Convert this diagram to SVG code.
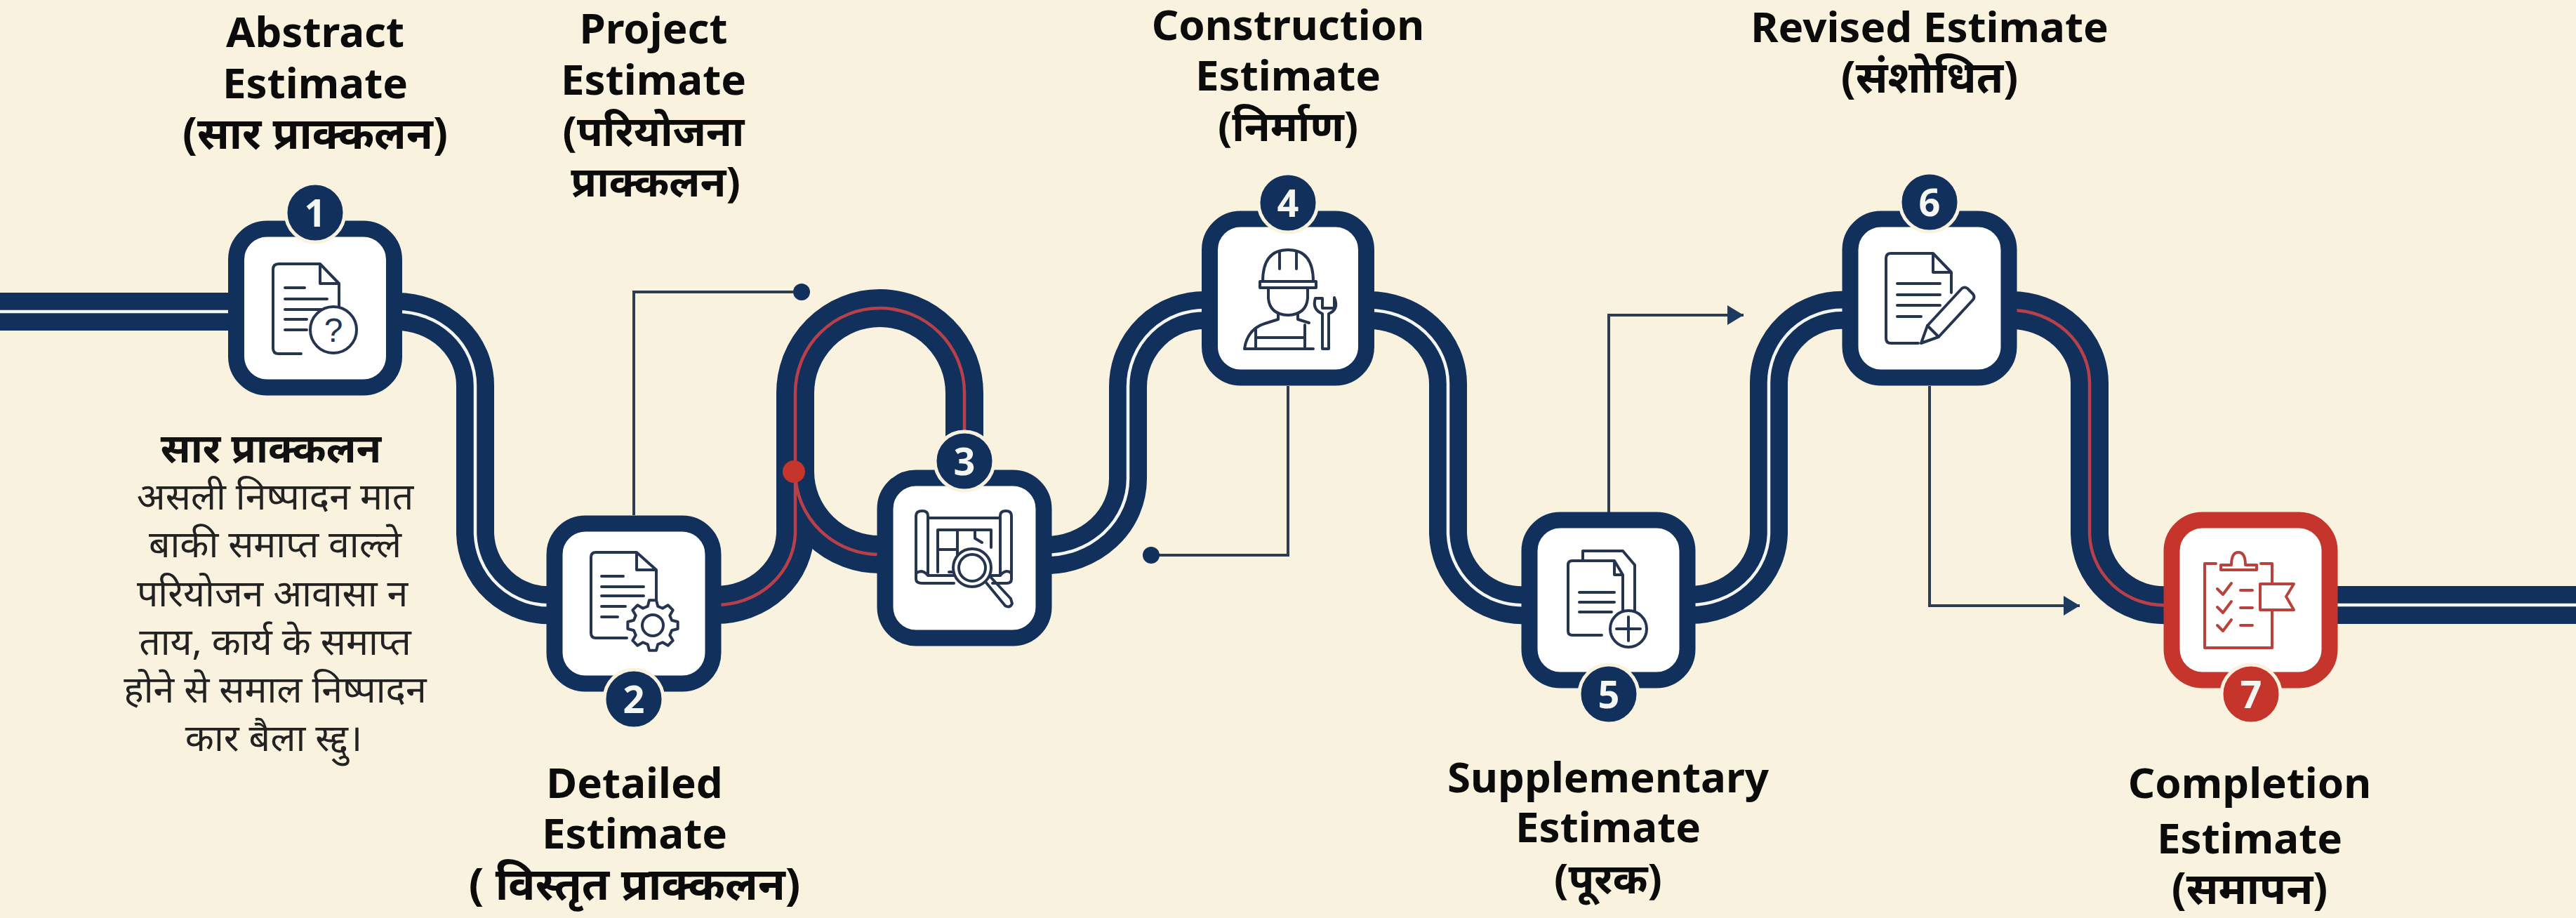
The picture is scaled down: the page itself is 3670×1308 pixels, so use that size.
<svg xmlns="http://www.w3.org/2000/svg" width="3670" height="1308" viewBox="0 0 3670 1308">
<defs>
<style>
.bg{fill:#f8f2df}
.t{fill:none;stroke:#12305c;stroke-width:54}
.w{fill:none;stroke:#f4f6f2;stroke-width:4.500}
.r{fill:none;stroke:#b8404a;stroke-width:4.500}
.thin{fill:none;stroke:#2c3e50;stroke-width:4}
.box{fill:#fff;stroke:#12305c;stroke-width:23}
.boxr{fill:#fff;stroke:#c5352b;stroke-width:23}
.ic{fill:none;stroke:#26354f;stroke-width:4;stroke-linecap:round;stroke-linejoin:round}
.icr{fill:none;stroke:#b8433c;stroke-width:4;stroke-linecap:round;stroke-linejoin:round}
.fillw{fill:#fff}
.bd{fill:#12305c;stroke:#f8f2df;stroke-width:5}
.bdr{fill:#c5352b;stroke:#f8f2df;stroke-width:5}
.n{font:700 54px "Noto Sans","Liberation Sans",sans-serif;fill:#f4f6f2;text-anchor:middle}
.h{font:700 60px "Noto Sans","Noto Sans Devanagari","Liberation Sans",sans-serif;fill:#0b0b0b;text-anchor:middle}
.b{font:400 53.500px "Noto Sans","Noto Sans Devanagari","Liberation Sans",sans-serif;fill:#222;text-anchor:middle}
.bt{font:700 58px "Noto Sans","Noto Sans Devanagari","Liberation Sans",sans-serif;fill:#111;text-anchor:middle}
</style>
<marker id="ah" markerUnits="userSpaceOnUse" markerWidth="24" markerHeight="28" refX="23" refY="14" orient="auto"><path d="M0 0L23 14L0 28Z" fill="#1f3a5f"/></marker>
</defs>
<rect class="bg" width="3670" height="1308"/>
<g id="connectors">
<path class="t" d="M0 444H330"/>
<path class="t" d="M565 444A112 105 0 0 1 677 549V757A105 105 0 0 0 790 862"/>
<path class="t" d="M1020 862A113 105 0 0 0 1133 757V560A120.500 121 0 0 1 1374 560V680"/>
<path class="t" d="M1133 672A120 118 0 0 0 1255 790"/>
<path class="t" d="M1490 791A117 109 0 0 0 1607 682V551A109 109 0 0 1 1720 442"/>
<path class="t" d="M1950 442A113 105 0 0 1 2063 547V757A105 105 0 0 0 2175 862"/>
<path class="t" d="M2408 862A112 104 0 0 0 2520 758V546A104 104 0 0 1 2630 442"/>
<path class="t" d="M2865 442A112 104 0 0 1 2977 546V758A106 104 0 0 0 3090 862"/>
<path class="t" d="M3325 862H3670"/>
<path class="w" d="M0 444H330"/>
<path class="w" d="M565 444A112 105 0 0 1 677 549V757A105 105 0 0 0 790 862"/>
<path class="r" d="M1020 862A113 105 0 0 0 1133 757V560A120.500 121 0 0 1 1374 560V680"/>
<path class="r" d="M1133 672A120 118 0 0 0 1255 790"/>
<path class="w" d="M1490 791A117 109 0 0 0 1607 682V551A109 109 0 0 1 1720 442"/>
<path class="w" d="M1950 442A113 105 0 0 1 2063 547V757A105 105 0 0 0 2175 862"/>
<path class="w" d="M2408 862A112 104 0 0 0 2520 758V546A104 104 0 0 1 2630 442"/>
<path class="r" d="M2865 442A112 104 0 0 1 2977 546V758A106 104 0 0 0 3090 862"/>
<path class="w" d="M3325 862H3670"/>
<circle cx="1131" cy="672" r="16" fill="#c5352b"/>
<path class="thin" d="M903 734V416H1130"/>
<circle cx="1142" cy="416" r="12" fill="#12305c"/>
<path class="thin" d="M1835 550V791H1650"/>
<circle cx="1640" cy="791" r="12" fill="#12305c"/>
<path class="thin" d="M2292 730V449H2484" marker-end="url(#ah)"/>
<path class="thin" d="M2749 550V863H2963" marker-end="url(#ah)"/>
</g>
<g id="node1" transform="translate(449 439)">
<rect class="box" x="-112.500" y="-113" width="225" height="226" rx="44"/>
<path class="ic" d="M-52 -63H7L34 -35V36M-20 65H-52Q-60 65 -60 57V-55Q-60 -63 -52 -63M7 -63V-35H34"/>
<path class="ic" d="M-43 -29H-15M-43 -13H17M-43 2H17M-43 16H-12M-43 31H-12"/>
<circle class="ic fillw" cx="26" cy="31" r="33"/>
<text x="26" y="48" style="font:400 48px 'Liberation Sans',sans-serif;fill:#26354f;text-anchor:middle">?</text>
<circle class="bd" cx="0" cy="-136" r="42"/>
<text class="n" x="0" y="-116">1</text>
</g>
<g id="node2" transform="translate(903 860)">
<rect class="box" x="-113" y="-114" width="226" height="228" rx="44"/>
<path class="ic" d="M-54 -73H4L32 -48V20M-10 49H-54Q-61 49 -61 42V-66Q-61 -73 -54 -73M4 -73V-48H32"/>
<path class="ic" d="M-46 -39H-15M-46 -24H14M-46 -11H14M-46 4H-12M-46 19H-23"/>
<polygon class="ic fillw" transform="translate(27 31)" points="35.650,-5.010 35.650,5.010 27.050,7.250 24.250,14 28.750,21.670 21.670,28.750 14,24.250 7.250,27.050 5.010,35.650 -5.010,35.650 -7.250,27.050 -14,24.250 -21.670,28.750 -28.750,21.670 -24.250,14 -27.050,7.250 -35.650,5.010 -35.650,-5.010 -27.050,-7.250 -24.250,-14 -28.750,-21.670 -21.670,-28.750 -14,-24.250 -7.250,-27.050 -5.010,-35.650 5.010,-35.650 7.250,-27.050 14,-24.250 21.670,-28.750 28.750,-21.670 24.250,-14 27.050,-7.250"/>
<circle class="ic" cx="27" cy="31" r="15"/>
<circle class="bd" cx="0" cy="136" r="42"/>
<text class="n" x="0" y="156">2</text>
</g>
<g id="node3" transform="translate(1374 795)">
<rect class="box" x="-113" y="-114" width="226" height="228" rx="44"/>
<path class="ic" d="M-52 -57H51M-52 25H51M-69 -60Q-69 -67 -60 -67Q-52 -67 -52 -60V25Q-60 15 -69 22Z M51 -60Q51 -67 59 -67Q67 -67 67 -60V22Q59 15 51 25Z M-69 22V30Q-69 36 -60 36H-15M40 36H60Q67 36 67 30V22"/>
<path class="ic" d="M-38 20V-40H38V-15M-38 -12H-10V-40M-10 -12V20H-22M15 -40V-28L25 -22"/>
<circle class="ic fillw" cx="11" cy="14" r="27"/>
<circle class="ic" cx="11" cy="14" r="19"/>
<path class="ic" d="M30 34L58 68Q65 72 68 65L66 58L38 28"/>
<circle class="bd" cx="0" cy="-138" r="42"/>
<text class="n" x="0" y="-118">3</text>
</g>
<g id="node4" transform="translate(1835 425)">
<rect class="box" x="-111.500" y="-113" width="223" height="226" rx="44"/>
<path class="ic" d="M-36 -24Q-36 -69 0 -69Q36 -69 36 -24M-40 -24H40V-15H-40ZM-12 -67V-42M12 -67V-42"/>
<path class="ic" d="M-28 -15V0Q-26 23 0 24Q26 23 28 0V-15"/>
<path class="ic" d="M-14 22V30L-33 36Q-58 44 -62 72H36M14 22V30L30 35M-46 72V44M24 72V38M-46 56H24"/>
<path class="ic" d="M39 0Q34 16 49 22V72H58V22Q73 16 66 -1V14H49V0Z"/>
<circle class="bd" cx="0" cy="-136" r="42"/>
<text class="n" x="0" y="-116">4</text>
</g>
<g id="node5" transform="translate(2292 855)">
<rect class="box" x="-113" y="-114" width="225" height="228" rx="44"/>
<path class="ic" d="M-37 -56V-70H20L37 -50V20"/>
<path class="ic" d="M-52 -56H8L20 -36V30M-10 50H-52Q-58 50 -58 44V-50Q-58 -56 -52 -56M8 -56V-36H20"/>
<path class="ic" d="M-42 -11H8M-42 3H8M-42 17H4"/>
<circle class="ic fillw" cx="28" cy="41" r="26"/>
<path class="ic" d="M28 24V58M11 41H45"/>
<circle class="bd" cx="0" cy="134" r="42"/>
<text class="n" x="0" y="154">5</text>
</g>
<g id="node6" transform="translate(2749 425)">
<rect class="box" x="-113" y="-113" width="226" height="226" rx="44"/>
<path class="ic" d="M-55 -64H5L31 -37V-8M-16 64H-55Q-62 64 -62 57V-57Q-62 -64 -55 -64M5 -64V-37H31"/>
<path class="ic" d="M-46 -21H15M-46 -5H15M-46 10H15M-46 26H-12"/>
<path class="ic fillw" d="M-12 64L-3 39L46 -14Q50 -17 54 -14L62 -6Q65 -2 62 2L13 55Z"/>
<path class="ic" d="M-3 39L13 55"/>
<circle class="bd" cx="0" cy="-137" r="42"/>
<text class="n" x="0" y="-117">6</text>
</g>
<g id="node7" transform="translate(3207 855)">
<rect class="boxr" x="-113" y="-114" width="225" height="228" rx="44"/>
<path class="icr" d="M-50 -52H-66V68H30V14M30 -24V-52H14"/>
<path class="icr" d="M-43 -43V-50H-28Q-28 -68 -18 -68Q-8 -68 -8 -50H8V-43Z"/>
<path class="icr" d="M-48 -16L-40 -8L-28 -24M-48 10L-40 18L-28 2M-48 36L-40 44L-28 28M-15 -14H2M-15 11H2M-15 36H2"/>
<path class="icr fillw" d="M13 -23H61L50 -5L61 14H13Z"/>
<circle class="bdr" cx="0" cy="134" r="42"/>
<text class="n" x="0" y="154">7</text>
</g>
<g id="labels">
<text class="h" x="449" y="67">Abstract</text>
<text class="h" x="449" y="140">Estimate</text>
<text class="h" x="449" y="212" style="font-size:62px">(सार प्राक्कलन)</text>
<text class="h" x="931" y="62">Project</text>
<text class="h" x="931" y="135">Estimate</text>
<text class="h" x="931" y="208">(परियोजना</text>
<text class="h" x="934" y="280">प्राक्कलन)</text>
<text class="h" x="1835" y="57">Construction</text>
<text class="h" x="1835" y="129">Estimate</text>
<text class="h" x="1835" y="201">(निर्माण)</text>
<text class="h" x="2749" y="60">Revised Estimate</text>
<text class="h" x="2749" y="132" style="font-size:62px">(संशोधित)</text>
<text class="h" x="904" y="1137">Detailed</text>
<text class="h" x="904" y="1209">Estimate</text>
<text class="h" x="904" y="1282" style="font-size:63.500px">( विस्तृत प्राक्कलन)</text>
<text class="h" x="2291" y="1129">Supplementary</text>
<text class="h" x="2291" y="1200">Estimate</text>
<text class="h" x="2291" y="1273">(पूरक)</text>
<text class="h" x="3205" y="1137">Completion</text>
<text class="h" x="3205" y="1216">Estimate</text>
<text class="h" x="3205" y="1288" style="font-size:62px">(समापन)</text>
<text class="bt" x="386" y="659">सार प्राक्कलन</text>
<text class="b" x="392" y="726">असली निष्पादन मात</text>
<text class="b" x="392" y="794">बाकी समाप्त वाल्ले</text>
<text class="b" x="388" y="864">परियोजन आवासा न</text>
<text class="b" x="392" y="933">ताय, कार्य के समाप्त</text>
<text class="b" x="392" y="1001">होने से समाल निष्पादन</text>
<text class="b" x="390" y="1070">कार बैला स्द्दु।</text>
</g>
</svg>
